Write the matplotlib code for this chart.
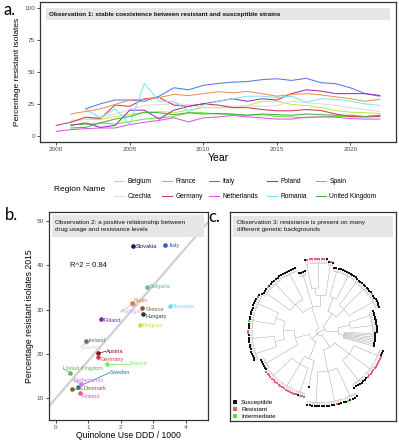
import numpy as np
import matplotlib
matplotlib.use("Agg")
import matplotlib.pyplot as plt
from matplotlib.patches import Rectangle
from matplotlib.lines import Line2D
from matplotlib.collections import LineCollection

plt.rcParams['font.family'] = ['Liberation Sans', 'DejaVu Sans']

# ---- panel a: resistance over time ----
regions = ['Belgium', 'Czechia', 'France', 'Germany', 'Italy',
           'Netherlands', 'Poland', 'Romania', 'Spain', 'United Kingdom']
region_colors = ['#c8ea3c', '#dcdcdc', '#5ee83a', '#d03a58', '#5a78dc',
                 '#e055e0', '#9a2ec0', '#78e8ee', '#f09050', '#4fa84f']
region_start = [2001, 2001, 2001, 2000, 2002, 2000, 2001, 2002, 2001, 2001]
region_values = [
    [11, 13, 12.6, 15, 16.5, 18.4, 19, 18, 20, 22, 22, 22, 23.7, 27, 27, 24.5, 23.7, 22, 19.7, 18.4, 18, 17.4],
    [12, 13, 14, 17, 20.5, 23.7, 24.5, 25, 24.5, 24.5, 24, 23, 23.5, 23, 23.7, 27, 25.8, 25, 23.7, 22, 20.5, 19],
    [8.7, 8.7, 10, 9, 11, 13, 14, 15, 18, 18, 17, 16.5, 16, 16.5, 15, 14.7, 14, 15, 15, 15, 15, 16],
    [8, 10.5, 14.5, 13.5, 24, 23, 29, 30, 24, 23, 25, 24, 22, 22, 20.5, 19.5, 19.5, 20.5, 19.7, 17, 15, 14.7, 15],
    [21, 25, 28, 28, 27, 31, 37.6, 36, 39.5, 41, 42, 42.5, 44, 44.7, 43.4, 45, 41.6, 40.8, 37.6, 33, 31],
    [3.4, 4.7, 5.5, 6, 6, 8.7, 10.5, 12, 14, 10.8, 14, 14.7, 15.8, 14.7, 14, 13, 13, 14.5, 14.7, 14.5, 13.4, 13, 13],
    [8, 10, 6.5, 8, 20, 20, 13, 20, 23, 25, 27, 29, 27, 29, 28, 33, 36, 35, 33, 33, 33, 31.5],
    [20.5, 14, 21, 9, 41, 27, 27, 19, 24, 27, 29, 31, 31, 30, 31, 26.3, 29, 28.5, 27, 25, 23.7],
    [17, 19, 21, 24.5, 28, 28.5, 30, 32.4, 31.5, 33, 34.5, 33.7, 34.7, 33, 31, 32.4, 33, 32, 30.5, 29, 27, 28.5],
    [6, 6.5, 10, 13, 15, 18.4, 18, 16.5, 18, 17, 17.4, 17, 16, 17, 16.5, 16, 17, 16.5, 16, 16, 15, 16],
]
year_ticks = [2000, 2005, 2010, 2015, 2020]
pct_ticks = [0, 25, 50, 75, 100]

# ---- panel b: usage vs resistance ----
countries = ['Portugal', 'Czechia', 'Slovakia', 'Italy', 'Bulgaria', 'Spain', 'Greece', 'Romania',
             'Hungary', 'Poland', 'Belgium', 'Ireland', 'Austria', 'Germany', 'France',
             'United Kingdom', 'Sweden', 'Netherlands', 'Denmark', 'Finland']
country_colors = ['#d2aaf0', '#cfcfcf', '#0c1a6e', '#3556cc', '#66bb88', '#e07a35', '#8a5a28', '#6fe0e6',
                  '#2c3838', '#7a28a6', '#cfe040', '#6e6e6e', '#8a1616', '#e03848', '#74ec52',
                  '#60b860', '#247a96', '#cc7aee', '#7a6a10', '#ee5a9a']
quinolone_ddd = [2.38, 0.95, 2.39, 3.36, 2.80, 2.34, 2.65, 3.52, 2.70, 1.39, 2.60, 0.93,
                 1.31, 1.32, 1.59, 0.46, 0.70, 0.78, 0.50, 0.75]
resistant_2015 = [31.3, 22.8, 44.25, 44.5, 35.2, 31.5, 30.4, 30.7, 29.0, 27.8, 26.6, 23.0,
                  20.1, 19.4, 17.8, 15.6, 12.6, 13.2, 12.0, 11.1]
# label anchors (left edge, middle) as placed by the label repeller
label_pos = [(2.00, 29.5), (0.78, 21.4), (2.46, 44.25), (3.52, 44.4), (2.90, 35.2), (2.41, 31.95),
             (2.77, 30.1), (3.57, 30.75), (2.78, 28.35), (1.48, 27.6), (2.67, 26.3), (1.02, 23.1),
             (1.55, 20.6), (1.39, 18.8), (2.29, 17.8), (0.24, 16.7), (1.67, 15.8), (0.54, 14.1),
             (0.85, 12.1), (0.81, 10.4)]

# ---- panel c: phylogeny, clades listed in tip order ----
clade_states = ["SSSSSSSS", "SSSSSSSSSSSS", "SSSSSSSISSSSSSSSSS", "SSSSSSSSSSSS", "SRS",
                "SRRRRRRRRS", "SSSS", "SSSSSSSSSSSSSSSISSSS", "SRSSSSSSSSSSISSSRRSSSSSSSSSSSS",
                "SSSSSS", "RRRRRRRRRRRRRRRRRRSIRR", "S", "SSSSSSSSSSSSRSSSSISSSS",
                "SSSSSSSSRRRRRRRRRRRRSSS"]
clade_root_r = [0.30, 0.42, 0.45, 0.50, 0.58, 0.60, 0.48, 0.50, 0.50, 0.58, 0.52, 0.40, 0.55, 0.50]
clade_inner_r = [0.33, 0.72, 0.83, 0.85, 0.92, 0.94, 0.80, 0.89, 0.93, 0.85, 0.87, 0.40, 0.97, 0.85]
clade_tip_r = [0.76, 0.78, 0.88, 0.90, 0.96, 1.00, 0.85, 0.94, 0.98, 0.90, 0.92, 0.77, 1.02, 0.90]
backbone = (0.0, [(0.08, [(0.25, [0, 1]), (0.30, [2, 3])]),
                  (0.05, [(0.35, [(0.50, [4, 5]), 6, 7]),
                          (0.15, [(0.35, [8, 9]), (0.40, [10, 11])]),
                          (0.25, [12, 13])])])
state_colors = {'S': '#111111', 'R': '#e0607a', 'I': '#66d44a'}
state_names = {'S': 'Susceptible', 'R': 'Resistant', 'I': 'Intermediate'}

fig = plt.figure(figsize=(3.99, 4.40), dpi=100)
tick_col = '#4d4d4d'
frame_col = '#333333'


def style_frame(ax):
    for s in ax.spines.values():
        s.set_color(frame_col)
        s.set_linewidth(0.9)
    ax.tick_params(colors=frame_col, labelcolor=tick_col, labelsize=4.6, length=2, width=0.6, pad=1.5)


def strip(ax, x0, x1, y0, y1, text, tx, **kw):
    ax.add_patch(Rectangle((x0, y1), x1 - x0, y0 - y1, transform=ax.transAxes,
                           facecolor='#e6e6e6', edgecolor='none', zorder=5, clip_on=False))
    ax.text(tx, (y0 + y1) / 2, text, transform=ax.transAxes, va='center', ha='left',
            fontsize=4.6, color='#111111', zorder=6, linespacing=1.4, **kw)


# panel a
ax_a = fig.add_axes([40 / 399, 1 - 142 / 440, 356 / 399, 140 / 440])
for name, col, start, vals in zip(regions, region_colors, region_start, region_values):
    yrs = np.arange(start, start + len(vals))
    ax_a.plot(yrs, vals, color=col, lw=0.75, label=name)
ax_a.set_xlim(1998.9, 2023.1)
ax_a.set_ylim(-5, 105)
ax_a.set_xticks(year_ticks)
ax_a.set_yticks(pct_ticks)
style_frame(ax_a)
ax_a.set_xlabel('Year', fontsize=7.5, labelpad=1)
ax_a.set_ylabel('Percentage resistant isolates', fontsize=6, labelpad=2)
strip(ax_a, 0.017, 0.983, 0.957, 0.871,
      'Observation 1: stable coexistence between resistant and susceptible strains', 0.025,
      fontweight='bold')

# legend: one small legend per column (2 rows each)
col_x = [114, 162, 209, 267, 316]
for i, x in enumerate(col_x):
    idx = [2 * i, 2 * i + 1]
    hs = [Line2D([], [], color=region_colors[j], lw=0.75) for j in idx]
    fig.legend(hs, [regions[j] for j in idx], loc='upper left',
               bbox_to_anchor=(x / 399, 1 - 178 / 440), frameon=False, fontsize=4.8,
               handlelength=1.5, handletextpad=0.5, labelspacing=1.2, borderpad=0, borderaxespad=0)
fig.text(54 / 399, 1 - 189 / 440, 'Region Name', fontsize=6, va='center', ha='left')

# panel b
ax_b = fig.add_axes([49 / 399, 1 - 420 / 440, 159 / 399, 208 / 440])
ax_b.set_xlim(-0.2, 4.69)
ax_b.set_ylim(5.1, 52)
slope, icpt = np.polyfit(quinolone_ddd, resistant_2015, 1)
xs = np.array([-0.2, 4.69])
ax_b.plot(xs, icpt + slope * xs, color='#d0d0d0', lw=1.6, zorder=1, solid_capstyle='butt')
for name, col, x, y, (lx, ly) in zip(countries, country_colors, quinolone_ddd, resistant_2015, label_pos):
    ax_b.scatter([x], [y], s=11, color=col, zorder=3, linewidths=0)
    if abs(lx - x) > 0.2 or abs(ly - y) > 1.2:
        ax_b.plot([x, lx], [y, ly], color=col, lw=0.5, zorder=2)
    ax_b.text(lx, ly, name, color=col, fontsize=4.1, va='center', ha='left', zorder=4)
ax_b.text(1.0, 40, 'R^2 = 0.84', fontsize=5.5, ha='center', va='center', color='#111111')
ax_b.set_xticks([0, 1, 2, 3, 4])
ax_b.set_yticks([10, 20, 30, 40, 50])
style_frame(ax_b)
ax_b.set_xlabel('Quinolone Use DDD / 1000', fontsize=6.2, labelpad=1)
ax_b.set_ylabel('Percentage resistant isolates 2015', fontsize=6.2, labelpad=2)
strip(ax_b, 0.02, 0.975, 0.986, 0.88,
      'Observation 2: a positive relationship between\ndrug usage and resistance levels', 0.038)

# panel c
ax_c = fig.add_axes([230 / 399, 1 - 421 / 440, 166 / 399, 209 / 440])
ax_c.set_xlim(-1.233, 1.041)
ax_c.set_ylim(-1.223, 1.64)
ax_c.set_xticks([])
ax_c.set_yticks([])
style_frame(ax_c)


def make_clade(states, root_r, inner_r, tip_r):
    # rows of tips on short stalks, hung off a sparse spine
    n = len(states)
    groups = []
    for i in range(0, n, 8):
        leaves = [{'r': tip_r, 'state': states[k]} for k in range(i, min(i + 8, n))]
        groups.append(leaves[0] if len(leaves) == 1 else {'r': inner_r, 'children': leaves})

    def join(lo, hi, r):
        if hi - lo == 1:
            return groups[lo]
        if hi - lo <= 3:
            return {'r': r, 'children': groups[lo:hi]}
        mid = (lo + hi) // 2
        nr = r + (inner_r - r) * 0.3
        return {'r': r, 'children': [join(lo, mid, nr), join(mid, hi, nr)]}
    if len(groups) == 1 and 'children' in groups[0]:
        return {'r': root_r, 'children': groups}
    return join(0, len(groups), root_r)


def build(node):
    if isinstance(node, int):
        return make_clade(clade_states[node], clade_root_r[node], clade_inner_r[node], clade_tip_r[node])
    r, kids = node
    return {'r': r, 'children': [build(k) for k in kids]}


tree = build(backbone)
n_tips = sum(len(s) for s in clade_states)
step = 2 * np.pi / n_tips
start = np.deg2rad(-15)
segs, seg_cols, tips = [], [], []
counter = [0]


def place(node):
    if 'state' in node:
        node['a'] = start + counter[0] * step
        counter[0] += 1
        tips.append(node)
        return
    for c in node['children']:
        place(c)
    angs = [c['a'] for c in node['children']]
    node['a'] = np.mean(angs)
    t = np.linspace(min(angs), max(angs), 30)
    segs.append(np.column_stack([node['r'] * np.cos(t), node['r'] * np.sin(t)]))
    seg_cols.append('#a8a8a8')
    for c in node['children']:
        a = c['a']
        segs.append([(node['r'] * np.cos(a), node['r'] * np.sin(a)), (c['r'] * np.cos(a), c['r'] * np.sin(a))])
        seg_cols.append('#f0a8b8' if c.get('state') == 'R' else '#a8a8a8')


place(tree)
ax_c.add_collection(LineCollection(segs, colors=seg_cols, linewidths=0.35))
for st in 'SRI':
    pts = [(t['r'] * np.cos(t['a']), t['r'] * np.sin(t['a'])) for t in tips if t['state'] == st]
    if pts:
        px, py = zip(*pts)
        ax_c.plot(px, py, 's', ms=1.7, color=state_colors[st], mew=0, zorder=3)
leg_handles = [Line2D([], [], marker='s', ls='none', ms=2.6, color=state_colors[s], mew=0) for s in 'SRI']
ax_c.legend(leg_handles, [state_names[s] for s in 'SRI'], loc='lower left', bbox_to_anchor=(0.01, 0.0),
            frameon=False, fontsize=4.5, handlelength=0.6, handletextpad=0.6, labelspacing=0.25,
            borderpad=0.3, borderaxespad=0)
strip(ax_c, 0.018, 0.982, 0.982, 0.882,
      'Observation 3: resistance is present on many\ndifferent genetic backgrounds', 0.04)

# panel letters
for lbl, x, y in [('a.', 3, 10), ('b.', 5, 215), ('c.', 208, 217)]:
    fig.text(x / 399, 1 - y / 440, lbl, fontsize=12, family='Lato', va='center', ha='left')

fig.savefig('out.png', dpi=100)
